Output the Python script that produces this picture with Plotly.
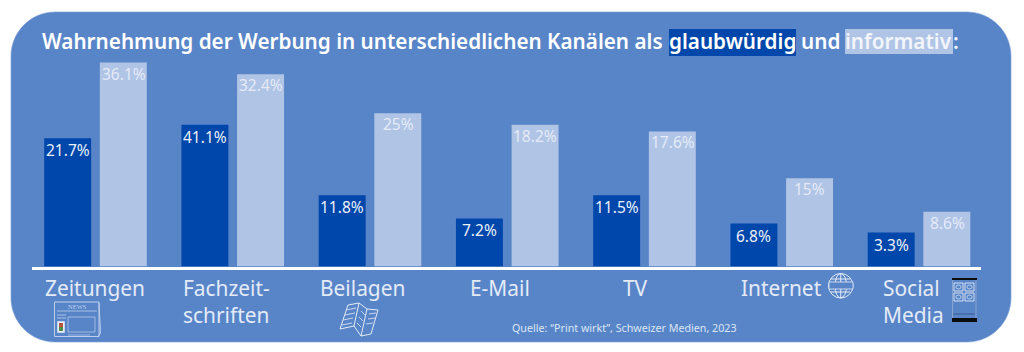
import plotly.graph_objects as go

W, H = 1024, 352
categories = ["Zeitungen", "Fachzeit-<br>schriften", "Beilagen", "E-Mail", "TV", "Internet", "Social<br>Media"]
# Heights as drawn in the picture (the printed labels do not follow them exactly)
glaub_drawn = [22.7, 25.1, 12.6, 8.5, 12.6, 7.6, 6.0]
info_drawn = [36.1, 34.0, 27.1, 25.1, 23.9, 15.6, 9.7]
glaub_labels = ["21.7%", "41.1%", "11.8%", "7.2%", "11.5%", "6.8%", "3.3%"]
info_labels = ["36.1%", "32.4%", "25%", "18.2%", "17.6%", "15%", "8.6%"]
label_shift = [-1, -6, -8, -7, -9, 0, -6]

CARD = "#5885C8"
DARK = "#0047AB"
LIGHT = "#B0C4E6"
PALE = "#E4EBF7"
FONT = "Noto Sans"

def px(x): return x / W
def py(y): return 1 - y / H

xs = list(range(len(categories)))
fig = go.Figure()
fig.add_bar(x=xs, y=glaub_drawn, marker=dict(color=DARK, line_width=0))
fig.add_bar(x=xs, y=info_drawn, marker=dict(color=LIGHT, line_width=0))

def pth(points, close=False):
    s = "M " + " L ".join(f"{px(a):.5f},{py(b):.5f}" for a, b in points)
    return s + (" Z" if close else "")

def line(points, color=PALE, w=1, close=False, fill=None):
    return dict(type="path", xref="paper", yref="paper", path=pth(points, close),
                line=dict(color=color, width=w), fillcolor=fill, layer="above")

def ell(x0, y0, x1, y1, color=PALE, w=1, fill=None):
    return dict(type="circle", xref="paper", yref="paper", x0=px(x0), x1=px(x1), y0=py(y0), y1=py(y1),
                line=dict(color=color, width=w), fillcolor=fill, layer="above")

def rect(x0, y0, x1, y1, color=PALE, w=1, fill=None):
    return dict(type="rect", xref="paper", yref="paper", x0=px(x0), x1=px(x1), y0=py(y0), y1=py(y1),
                line=dict(color=color, width=w), fillcolor=fill, layer="above")

# Rounded card
L, T, R, B, r = 11, 12, 1011, 342, 44
k = 0.55 * r
card = (f"M {px(L+r):.5f},{py(T):.5f} L {px(R-r):.5f},{py(T):.5f} "
        f"C {px(R-r+k):.5f},{py(T):.5f} {px(R):.5f},{py(T+r-k):.5f} {px(R):.5f},{py(T+r):.5f} "
        f"L {px(R):.5f},{py(B-r):.5f} "
        f"C {px(R):.5f},{py(B-r+k):.5f} {px(R-r+k):.5f},{py(B):.5f} {px(R-r):.5f},{py(B):.5f} "
        f"L {px(L+r):.5f},{py(B):.5f} "
        f"C {px(L+r-k):.5f},{py(B):.5f} {px(L):.5f},{py(B-r+k):.5f} {px(L):.5f},{py(B-r):.5f} "
        f"L {px(L):.5f},{py(T+r):.5f} "
        f"C {px(L):.5f},{py(T+r-k):.5f} {px(L+r-k):.5f},{py(T):.5f} {px(L+r):.5f},{py(T):.5f} Z")
shapes = [dict(type="path", xref="paper", yref="paper", path=card, fillcolor=CARD,
               line=dict(color="#7C9FD6", width=0.6), layer="below")]

# Title highlight boxes
shapes.append(rect(669, 29, 796, 56, color=DARK, w=0, fill=DARK))
shapes.append(rect(845, 29, 953, 54, color=LIGHT, w=0, fill=LIGHT))

# Newspaper icon
NC = "#BFD0EC"
shapes += [
    rect(54.5, 302, 99, 336.5, color=NC, w=1),
    line([(99, 303), (100.5, 333), (98, 337)], color=NC),
    line([(57, 311), (97, 311)], color=NC, w=0.8),
    rect(68, 317, 95, 332, color=NC, w=0.7),
    rect(57.5, 321.5, 64.5, 332.5, color="#E8EEF8", w=0.5, fill="#E8EEF8"),
    rect(59, 323, 63, 327, color="#B5533E", w=0, fill="#B5533E"),
    rect(59, 327, 63, 331, color="#4C8B4A", w=0, fill="#4C8B4A"),
    line([(57, 315), (66, 315)], color=NC, w=0.8),
    line([(57, 318), (66, 318)], color=NC, w=0.8),
    line([(68, 335), (90, 335)], color=NC, w=0.7),
]
# Brochure icon
shapes += [
    line([(340, 329), (348, 305), (359, 303), (367, 309), (378, 310), (371, 334), (361, 336), (354, 326), (340, 329)], w=1),
    line([(359, 303), (354, 326)], w=1),
    line([(367, 309), (361, 336)], w=1),
    line([(346, 310), (356, 308)], w=0.8), line([(345, 315), (355, 313)], w=0.8),
    line([(343, 320), (353, 318)], w=0.8), line([(342, 325), (352, 323)], w=0.8),
    line([(361, 311), (365, 315)], w=0.8), line([(359, 317), (363, 321)], w=0.8),
    line([(357, 323), (361, 327)], w=0.8), line([(369, 314), (376, 313)], w=0.8),
    line([(368, 319), (375, 318)], w=0.8), line([(366, 324), (373, 323)], w=0.8),
]
# Globe icon
shapes += [
    ell(828.5, 273.5, 853, 298),
    ell(835, 273.5, 846.5, 298),
    line([(840.75, 273.5), (840.75, 298)]),
    line([(831, 279), (850, 279)]),
    line([(831, 292), (850, 292)]),
    rect(829, 282, 853, 289, color=PALE, w=0.8, fill=CARD),
]
# Phone icon
PC = "#9FB5D8"
shapes += [
    rect(952.5, 279, 976, 321, color=PC, w=0.7),
    rect(952, 278, 977, 280, color="#0B0B0B", w=0, fill="#0B0B0B"),
    rect(952, 318, 977, 322, color="#0B0B0B", w=0, fill="#0B0B0B"),
    rect(954, 283, 963, 291, w=0.9), rect(965, 283, 974, 291, w=0.9),
    rect(954, 293, 963, 301, w=0.9), rect(965, 293, 974, 301, w=0.9),
    ell(956, 285, 961, 289, w=0.7), ell(967, 285, 972, 289, w=0.7),
    ell(956, 295, 961, 299, w=0.7), ell(967, 295, 972, 299, w=0.7),
    line([(953, 314), (975, 314)], color="#2A3F66", w=0.6),
]

ann = []
def txt(x, y, s, size, color="#FFFFFF", weight=None, anchor="left", family=FONT):
    f = dict(size=size, color=color, family=family)
    if weight:
        f["weight"] = weight
    ann.append(dict(xref="paper", yref="paper", x=px(x), y=py(y), text=s, showarrow=False,
                    xanchor=anchor, yanchor="middle", font=f, borderpad=0, align="left"))

# Title pieces
TS = 20.7
txt(40.5, 41, "Wahrnehmung der Werbung in unterschiedlichen Kanälen als", TS, weight=600)
txt(668, 41, "glaubwürdig", TS, weight=600)
txt(800, 41, "und", TS, weight=600)
txt(844, 41, "informativ", TS, weight=600, color="#F2F5FB")
txt(952, 41, ":", TS, weight=600, color="#F2F5FB")

# NEWS on the newspaper icon
txt(77, 306.5, "NEWS", 6.5, color=NC, anchor="center", family="Liberation Serif")

# Bar value labels, placed from the same arrays as the bars
for i in xs:
    ann.append(dict(xref="x", yref="y", x=i, xshift=-28, y=glaub_drawn[i], yshift=-12,
                    text=glaub_labels[i], showarrow=False, xanchor="center", yanchor="middle",
                    font=dict(size=15.5, color="#EAF0F9", family=FONT)))
    ann.append(dict(xref="x", yref="y", x=i, xshift=28, y=info_drawn[i], yshift=-11,
                    text=info_labels[i], showarrow=False, xanchor="center", yanchor="middle",
                    font=dict(size=15.5, color=PALE, family=FONT)))

# Category labels
for i, c in enumerate(categories):
    two = "<br>" in c
    ann.append(dict(xref="x", yref="paper", x=i, xshift=label_shift[i],
                    y=py(301 if two else 287.5), text=c, showarrow=False, xanchor="center",
                    yanchor="middle", align="left" if two else "center",
                    font=dict(size=20.9, color=PALE, family=FONT)))

txt(511, 328, "Quelle: “Print wirkt”, Schweizer Medien, 2023", 10.7, color="#DCE5F4")

AXL, AXR, AXT, AXB = 32, 981, 39, 266.5
pitch, first = 137.25, 95.5
fig.update_layout(
    width=W, height=H, margin=dict(l=0, r=0, t=0, b=0, pad=0),
    paper_bgcolor="white", plot_bgcolor="rgba(0,0,0,0)",
    barmode="group", bargap=0.189, bargroupgap=0.156, showlegend=False,
    font=dict(family=FONT), shapes=shapes, annotations=ann,
    xaxis=dict(domain=[px(AXL), px(AXR)], range=[(AXL - first) / pitch, (AXR - first) / pitch],
               showgrid=False, zeroline=False, showticklabels=False, ticks="",
               showline=True, linecolor="#FFFFFF", linewidth=2.5, fixedrange=True),
    yaxis=dict(domain=[py(AXB), py(AXT)], range=[0, (AXB - AXT) * 36.1 / 204],
               showgrid=False, zeroline=False, showticklabels=False, ticks="", showline=False, fixedrange=True),
)
fig.write_html("out.html", config=dict(displayModeBar=False),
               post_script="document.body.style.margin='0';document.documentElement.style.overflow='hidden';")
